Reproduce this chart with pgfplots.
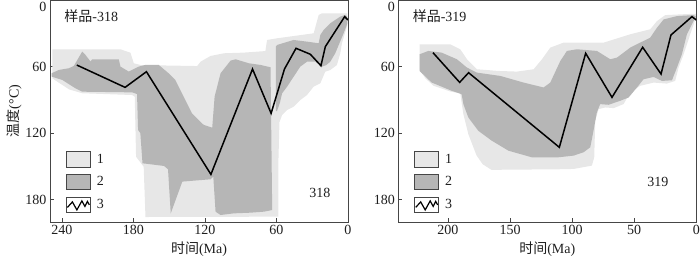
\documentclass[border=0pt]{standalone}
\usepackage{fontspec}
\setmainfont{Liberation Serif}
\newfontfamily\cjk{Noto Sans CJK SC}
\usepackage{pgfplots}
\pgfplotsset{compat=1.18}
\definecolor{lightfill}{RGB}{231,231,231}
\definecolor{darkfill}{RGB}{182,182,182}
\definecolor{frame}{RGB}{70,70,70}
\definecolor{txt}{RGB}{30,30,30}

\pgfplotsset{
  panel/.style={
    scale only axis, width=298pt, height=222pt,
    x dir=reverse, y dir=reverse, ymin=0, ymax=200,
    ytick={60,120,180},
    extra y ticks={0},
    extra y tick style={yticklabel style={yshift=-7pt}, major tick length=0pt},
    xtick pos=bottom, ytick pos=left,
    major tick length=4pt,
    tick style={frame, line width=0.8pt},
    axis line style={frame, line width=0.8pt},
    /pgf/number format/assume math mode=true,
    tick label style={text=txt},
    label style={text=txt},
    ylabel style={yshift=-3pt},
    legend style={at={(rel axis cs:0.053,0.32)}, anchor=north west, draw=none, fill=none,
      inner sep=0pt, row sep=6.5pt, column sep=6pt, nodes={inner sep=0pt, text=txt}},
    legend cell align=left,
  },
  lightleg/.style={legend image code/.code={\draw[draw=frame, line width=0.8pt, fill=lightfill] (0pt,-7.75pt) rectangle (24pt,7.75pt);}},
  darkleg/.style={legend image code/.code={\draw[draw=frame, line width=0.8pt, fill=darkfill] (0pt,-7.75pt) rectangle (24pt,7.75pt);}},
  lineleg/.style={legend image code/.code={\draw[draw=frame, line width=0.8pt, fill=white] (0pt,-7.75pt) rectangle (24pt,7.75pt);
      \draw[black, line width=1.2pt] (1pt,-2.5pt) -- (6pt,3pt) -- (10.5pt,-5pt) -- (15.5pt,4pt) -- (18.5pt,-1.5pt) -- (21pt,3.5pt) -- (23pt,0pt);}},
}

\begin{document}
\begin{tikzpicture}[font=\fontsize{14}{16}\selectfont]
\begin{axis}[panel, at={(50pt,43pt)}, anchor=south west,
  xmin=0, xmax=250, xtick={0,60,120,180,240},
  xlabel={{\cjk 时间}(Ma)}, ylabel={{\cjk 温度}(°C)}]
% 1: light envelope
\addplot[draw=none, fill=lightfill, lightleg] coordinates {
(248,44.4) (190.9,44.4) (182.5,47.5) (179.7,57) (173.9,58.6) (126.5,59.5) (123.6,55.5) (115.3,50.4) (104.1,48) (87.4,47.4) (69.3,46) (67.9,36) (59.5,34.5) (28.8,30) (24.6,13.5) (21.9,12) (0.5,12)
(0.5,22.5) (5.1,39) (6.5,48) (9.3,58.6) (14.9,63.1) (19.1,64.6) (23.2,75) (28.8,78) (34.4,85.6) (40,90.1) (45.6,96.1) (51.1,99.1) (55.3,103.6) (57.5,110) (58.5,150) (58.5,195.2)
(169.9,195.5) (171.4,150.2) (177.8,141.2) (178.9,87.1) (181.1,85.6) (223,84) (234.1,80.5) (248,70.6)
};
\addlegendentry{1}
% 2: dark envelope
\addplot[draw=none, fill=darkfill, darkleg] coordinates {
(248.7,66) (242.5,63) (234.2,61.5) (230,59.4) (223,46.5) (220.2,49.5) (216,55.5) (214.6,53.4) (192.3,53.4) (190.9,60) (183.9,64.5) (175.6,60) (170,58.5) (158.8,58.5) (150.5,66) (144.9,72) (139.3,84) (130.9,102) (122.6,111.1) (120.8,112.6) (113.9,115) (111.9,87.1) (106.9,66) (98.5,54.6) (94.3,53.4) (83.2,57) (73.4,58.5) (65,60.6) (63.6,189.2)
(70.6,190.7) (81.8,191.6) (95.7,192.2) (106.9,193.7) (111.1,190.7) (113,159.1) (115.2,161.5) (139,163.6) (148.7,192.2) (151,152.5) (154.3,149.5) (172.4,147.1) (174.2,120) (176.1,117.1) (177,84.7) (181.1,83.2) (223,82.6) (228.6,79.6) (239.7,72) (248.7,69)
};
\addlegendentry{2}
\addplot[draw=none, fill=darkfill, forget plot] coordinates {
(60.5,42) (59.5,40.5) (45.6,36) (34.4,37.5) (24.6,39) (23.2,31.5) (20.4,27) (14.9,21) (6.5,15) (2.3,13.5) (0.5,15) (0.5,21) (3.7,30) (10.7,48) (14.9,55.6) (18.2,58.6) (21.8,60) (27.4,55.6) (34.4,55.6) (40,60) (45.6,69.1) (51.1,78.1) (55.3,84.1) (57,92) (59.5,100) (60.5,100)
};
% 3: thermal history path
\addplot[black, line width=1.5pt, lineleg] coordinates {
(227.5,58.6) (187,78.7) (169.1,64.6) (115,157.1) (80.1,62.2) (64.5,102.1) (53.3,62.2) (43.6,43.5) (31.6,48.9) (22.7,59.2) (19,42) (2.8,15) (0,18)
};
\addlegendentry{3}
\node[anchor=west, text=txt] at (axis cs:240.8,15) {{\cjk 样品}-318};
\node[text=txt] at (axis cs:23.6,173.6) {318};
\end{axis}

\begin{axis}[panel, at={(398.3pt,43pt)}, anchor=south west,
  xmin=0, xmax=240, xtick={0,50,100,150,200},
  xlabel={{\cjk 时间}(Ma)}]
\addplot[draw=none, fill=lightfill, lightleg] coordinates {
(222.9,39.9) (198.1,39.9) (190.1,44.4) (184.7,53.4) (176.7,62.4) (159.5,63.9) (144.5,64.5) (131,62.4) (124.3,53.4) (117.6,42.9) (106.9,38.4) (74.6,38.4) (53.2,30.9) (37.1,26.4) (31.7,19) (25,13.6) (2.2,12.4) (0.3,12.4)
(0.3,16) (4.9,30.9) (10.2,48.9) (14.3,60.9) (17,72.9) (23.7,75.3) (34.4,74.4) (45.2,77.3) (53.2,83.3) (58.6,93.8) (66.6,97.4) (73.3,96.8) (78.7,98.3) (81.4,108.8) (82.2,141.7) (84.1,149.2) (98.8,152.2) (111.1,152.5) (165,153) (172,148) (177,140) (183.6,120.8) (187.6,102.8) (190.1,84.2) (198.1,82.4) (211.6,77.3) (218.3,70.5) (222.9,62.4)
};
\addlegendentry{1}
\addplot[draw=none, fill=darkfill, darkleg] coordinates {
(222.9,48.9) (215.8,45.9) (205.1,47.4) (192.8,53.4) (184.7,60.9) (176.7,65.4) (157.9,68.4) (139.1,74.4) (123,78.8) (117.6,74.4) (109.5,54.9) (104.2,45.9) (96.1,44.4) (80,45.9) (69.3,53.4) (63.9,51.9) (53.2,42.9) (37.1,33.9) (31.7,25) (26.3,17.5) (15.6,14.5) (2.2,13.6) (0.3,15)
(2.2,19) (7.6,30.9) (11.6,48.9) (15.6,60.9) (19.6,72.3) (27.7,72.9) (34.4,69.3) (42.5,71.4) (47.8,78.8) (54.5,87.8) (61.3,90.8) (70.7,94.4) (77.4,93.8) (80.1,101.3) (83.3,120.8) (85.4,132.7) (90.8,137.2) (98.8,140.2) (111.1,141.7) (132.6,141.7) (151.4,135.7) (164.8,126.7) (175.6,117.8) (183.6,105.8) (187.6,93.8) (189,84.8) (197,81.8) (213.2,74.3) (222.9,63.9)
};
\addlegendentry{2}
\addplot[black, line width=1.5pt, lineleg] coordinates {
(212.1,47.4) (190.6,74.2) (183.4,65.5) (110.3,132.7) (89.1,48) (67.9,87.7) (43.2,42.6) (28.4,66.7) (20.4,31.5) (3.5,15) (0,18)
};
\addlegendentry{3}
\node[anchor=west, text=txt] at (axis cs:231.2,15) {{\cjk 样品}-319};
\node[text=txt] at (axis cs:31,163.7) {319};
\end{axis}
\pgfresetboundingbox
\useasboundingbox (0,0) rectangle (700pt,265pt);
\end{tikzpicture}
\end{document}
